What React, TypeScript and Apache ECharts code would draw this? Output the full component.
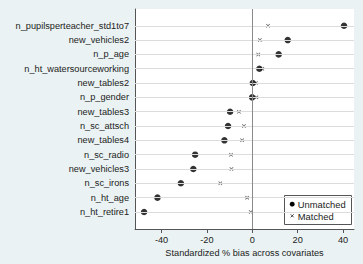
import React, { useEffect, useRef } from "react";
import * as echarts from "echarts";

const categories = [
  "n_pupilsperteacher_std1to7",
  "new_vehicles2",
  "n_p_age",
  "n_ht_watersourceworking",
  "new_tables2",
  "n_p_gender",
  "new_tables3",
  "n_sc_attsch",
  "new_tables4",
  "n_sc_radio",
  "new_vehicles3",
  "n_sc_irons",
  "n_ht_age",
  "n_ht_retire1",
];
const unmatched = [40.4, 15.6, 11.6, 3.1, 0.2, -0.1, -9.8, -10.7, -12.3, -25.2, -26.0, -31.5, -41.8, -47.7];
const matched = [6.9, 3.3, 2.6, 4.4, 1.6, 1.8, -5.9, -3.7, -4.5, -9.4, -9.2, -14.1, -2.3, -0.7];
const xTicks = [-40, -20, 0, 20, 40];
const xTitle = "Standardized % bias across covariates";
const legendNames = ["Unmatched", "Matched"];

const X_PATH =
  "path://M0,1.3L1.3,0L5,3.7L8.7,0L10,1.3L6.3,5L10,8.7L8.7,10L5,6.3L1.3,10L0,8.7L3.7,5Z";

export default function App() {
  const ref = useRef<HTMLDivElement>(null);
  useEffect(() => {
    const chart = echarts.init(ref.current!, null, { renderer: "svg" });
    const font = "'Liberation Sans', Arial, sans-serif";
    const rowValues = categories.map((_, i) => i + 1);
    chart.setOption({
      animation: false,
      backgroundColor: "#eaf2f3",
      textStyle: { fontFamily: font },
      grid: {
        left: 135,
        right: 9,
        top: 9,
        bottom: 35,
        show: true,
        backgroundColor: "#ffffff",
        borderWidth: 0,
      },
      graphic: [
        {
          type: "group",
          left: 284,
          top: 195,
          z: 10,
          children: [
            {
              type: "rect",
              shape: { x: 0, y: 0, width: 67, height: 29 },
              style: { fill: "#ffffff", stroke: "#555", lineWidth: 1 },
            },
            {
              type: "circle",
              shape: { cx: 7.7, cy: 8.7, r: 2.4 },
              style: { fill: "#000" },
            },
            {
              type: "line",
              shape: { x1: 6.2, y1: 18.8, x2: 9.2, y2: 21.8 },
              style: { stroke: "#444", lineWidth: 1 },
            },
            {
              type: "line",
              shape: { x1: 9.2, y1: 18.8, x2: 6.2, y2: 21.8 },
              style: { stroke: "#444", lineWidth: 1 },
            },
            {
              type: "text",
              x: 13.3,
              y: 8.7,
              style: {
                text: legendNames[0],
                fill: "#222",
                font: `9.4px ${font}`,
                verticalAlign: "middle",
                align: "left",
              },
            },
            {
              type: "text",
              x: 13.3,
              y: 20.5,
              style: {
                text: legendNames[1],
                fill: "#222",
                font: `9.4px ${font}`,
                verticalAlign: "middle",
                align: "left",
              },
            },
          ],
        },
      ],
      xAxis: {
        type: "value",
        min: -51.7,
        max: 44.8,
        name: xTitle,
        nameLocation: "middle",
        nameGap: 17,
        nameTextStyle: { fontSize: 9.2, color: "#222", fontFamily: font },
        axisLine: { show: true, onZero: false, lineStyle: { color: "#555", width: 1 } },
        axisTick: {
          show: true,
          customValues: xTicks,
          length: 4,
          lineStyle: { color: "#555" },
        },
        axisLabel: {
          customValues: xTicks,
          fontSize: 9.2,
          color: "#222",
          margin: 6,
          fontFamily: font,
        },
        splitLine: { show: false },
      },
      yAxis: {
        type: "value",
        inverse: true,
        min: -0.17,
        max: 15.19,
        axisLine: { show: true, onZero: false, lineStyle: { color: "#555", width: 1 } },
        axisTick: { show: false },
        axisLabel: {
          customValues: rowValues,
          fontSize: 9.2,
          color: "#222",
          margin: 6,
          align: "right",
          fontFamily: font,
          formatter: (v: number) => categories[Math.round(v) - 1] ?? "",
        },
        splitLine: { show: false },
      },
      series: [
        {
          type: "scatter",
          name: "grid",
          data: [],
          silent: true,
          z: 1,
          markLine: {
            silent: true,
            symbol: "none",
            label: { show: false },
            lineStyle: { color: "#dcdcdc", width: 1, type: "solid" },
            data: [
              ...rowValues.map((v) => ({ yAxis: v })),
              { xAxis: 0, lineStyle: { color: "#8a8a8a", width: 1, type: "solid" } },
            ],
          },
        },
        {
          type: "scatter",
          name: legendNames[1],
          symbol: X_PATH,
          symbolSize: 4,
          itemStyle: { color: "#333" },
          z: 3,
          data: matched.map((v, i) => [v, i + 1]),
        },
        {
          type: "scatter",
          name: legendNames[0],
          symbol: "circle",
          symbolSize: 6.5,
          itemStyle: { color: "#000" },
          z: 4,
          data: unmatched.map((v, i) => [v, i + 1]),
        },
      ],
    });
    return () => chart.dispose();
  }, []);
  return (
    <div
      ref={ref}
      style={{ position: "fixed", left: 0, top: 0, width: 363, height: 264 }}
    />
  );
}
